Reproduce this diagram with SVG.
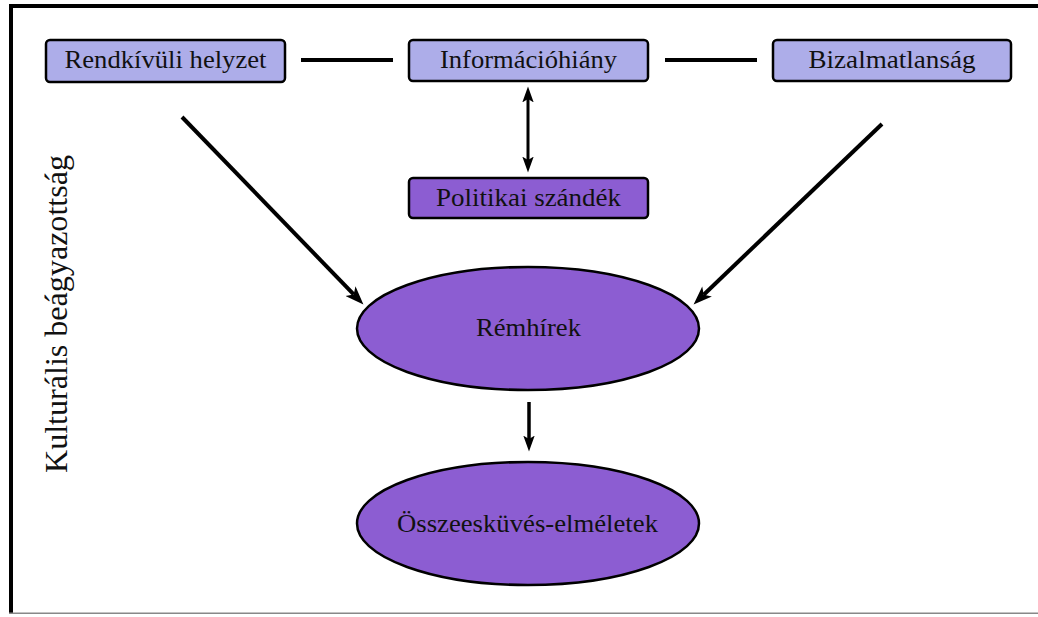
<svg xmlns="http://www.w3.org/2000/svg" width="1038" height="617" viewBox="0 0 1038 617">
<defs>
<style>
.lt{fill:#adade9;stroke:#000;stroke-width:2.5}
.dk{fill:#8c5dd2;stroke:#000;stroke-width:2.5}
text{font-family:'Liberation Serif','Times New Roman',Tinos,serif;font-size:25px;fill:#111;text-anchor:middle}
.c{stroke:#000;fill:none}
</style>
<marker id="ah" markerUnits="userSpaceOnUse" markerWidth="20" markerHeight="14" refX="4" refY="6" orient="auto-start-reverse" viewBox="0 0 16 12">
<path d="M0,0 L16,6 L0,12 L4,6 z" fill="#000"/>
</marker>
<marker id="ah2" markerUnits="userSpaceOnUse" markerWidth="16" markerHeight="12" refX="3" refY="5" orient="auto-start-reverse" viewBox="0 0 14 10">
<path d="M0,0 L14,5 L0,10 L3,5 z" fill="#000"/>
</marker>
</defs>
<rect width="1038" height="617" fill="#fff"/>
<g id="frame">
<rect x="9" y="4" width="1029" height="4" fill="#000"/>
<rect x="9" y="4" width="4" height="610" fill="#000"/>
<rect x="9" y="612.5" width="1029" height="1.5" fill="#888"/>
</g>
<g id="connectors">
<line class="c" x1="301" y1="60" x2="393" y2="60" stroke-width="4"/>
<line class="c" x1="665" y1="60" x2="757" y2="60" stroke-width="4"/>
<line class="c" x1="528" y1="99" x2="528" y2="160" stroke-width="3" marker-start="url(#ah2)" marker-end="url(#ah2)"/>
<line class="c" x1="182" y1="117" x2="353.7" y2="294.4" stroke-width="4" marker-end="url(#ah)"/>
<line class="c" x1="882" y1="124" x2="703.7" y2="294.7" stroke-width="4" marker-end="url(#ah)"/>
<line class="c" x1="529" y1="402" x2="529" y2="439" stroke-width="3.5" marker-end="url(#ah2)"/>
</g>
<g id="rendkivuli">
<rect class="lt" x="46" y="40" width="239" height="42" rx="4"/>
<text font-family="Liberation Serif, serif" x="165.5" y="68" textLength="202" lengthAdjust="spacingAndGlyphs">Rendkívüli helyzet</text>
</g>
<g id="informaciohiany">
<rect class="lt" x="409" y="40" width="239" height="41" rx="4"/>
<text font-family="Liberation Serif, serif" x="528.5" y="68" textLength="177" lengthAdjust="spacingAndGlyphs">Információhiány</text>
</g>
<g id="bizalmatlansag">
<rect class="lt" x="773" y="40" width="238" height="41" rx="4"/>
<text font-family="Liberation Serif, serif" x="892" y="68" textLength="167" lengthAdjust="spacingAndGlyphs">Bizalmatlanság</text>
</g>
<g id="politikai">
<rect class="dk" x="409" y="178" width="239" height="40" rx="4"/>
<text font-family="Liberation Serif, serif" x="528.5" y="206" textLength="185" lengthAdjust="spacingAndGlyphs">Politikai szándék</text>
</g>
<g id="remhirek">
<ellipse class="dk" cx="528" cy="328.5" rx="171" ry="61.5"/>
<text font-family="Liberation Serif, serif" x="528.5" y="336" textLength="105" lengthAdjust="spacingAndGlyphs">Rémhírek</text>
</g>
<g id="osszeeskuves">
<ellipse class="dk" cx="528" cy="523.5" rx="171" ry="61.5"/>
<text font-family="Liberation Serif, serif" x="527.5" y="532" textLength="261" lengthAdjust="spacingAndGlyphs">Összeesküvés-elméletek</text>
</g>
<g id="kulturalis">
<text font-family="Liberation Serif, serif" transform="translate(67,314) rotate(-90)" x="0" y="0" style="font-size:31px" textLength="318" lengthAdjust="spacingAndGlyphs">Kulturális beágyazottság</text>
</g>
</svg>
